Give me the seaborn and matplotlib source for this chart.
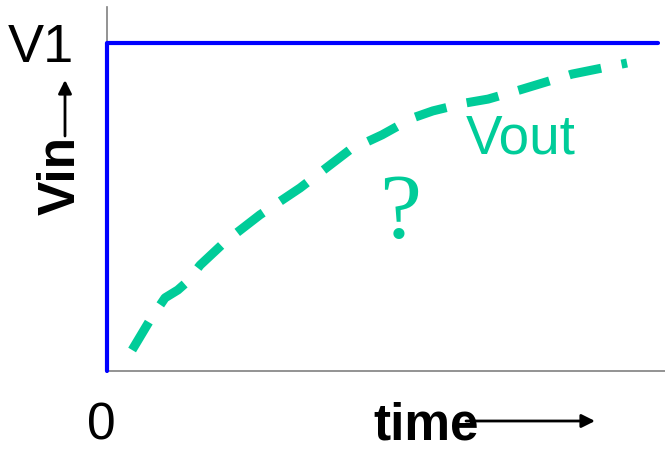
import matplotlib
matplotlib.use("Agg")
import matplotlib.pyplot as plt
import seaborn as sns
import pandas as pd

# Data (time normalised to axis width, voltage normalised to V1)
vin_t = [0.0, 0.0, 0.987]
vin_v = [0.0, 1.0, 1.0]
vout_t = [0.045, 0.077, 0.104, 0.127, 0.143, 0.167, 0.211, 0.274, 0.346,
          0.435, 0.493, 0.547, 0.584, 0.642, 0.683, 0.740, 0.833, 0.932]
vout_v = [0.064, 0.155, 0.223, 0.247, 0.271, 0.323, 0.393, 0.476, 0.558,
          0.674, 0.720, 0.771, 0.793, 0.817, 0.829, 0.857, 0.905, 0.939]

sns.set_style("white")
plt.rcParams['font.family'] = ['Liberation Sans', 'DejaVu Sans']
plt.rcParams['text.color'] = 'black'

W, H = 665, 466
fig = plt.figure(figsize=(W / 100, H / 100), dpi=100)
ax = fig.add_axes([107 / W, (H - 371) / H, 558 / W, 364 / H])

green = "#00CC99"
vin_df = pd.DataFrame({"t": vin_t, "v": vin_v})
vout_df = pd.DataFrame({"t": vout_t, "v": vout_v})
sns.lineplot(data=vin_df, x="t", y="v", sort=False, estimator=None,
             color="#0000FF", linewidth=3, ax=ax, zorder=5, clip_on=False)
sns.lineplot(data=vout_df, x="t", y="v", sort=False, estimator=None,
             color=green, linewidth=6.5, ax=ax, zorder=4)
ax.lines[-1].set_dashes([3.6, 2.3])
ax.lines[-1].set_dash_capstyle("butt")

ax.set_xlim(0, 1.0)
ax.set_ylim(0, 364 / 328)
ax.set_xticks([])
ax.set_yticks([])
ax.set_xlabel("")
ax.set_ylabel("")
for s in ["top", "right"]:
    ax.spines[s].set_visible(False)
for s in ["left", "bottom"]:
    ax.spines[s].set_color("#808080")
    ax.spines[s].set_linewidth(1.2)


def fx(px):
    return px / W


def fy(py):
    return 1 - py / H


fig.text(fx(8), fy(62), "V1", fontsize=39, ha="left", va="baseline")
fig.text(fx(87), fy(440), "0", fontsize=37, ha="left", va="baseline")
fig.text(fx(75), fy(215), "Vin", fontsize=37, fontweight="bold",
         rotation=90, rotation_mode="anchor", ha="left", va="baseline")
fig.text(fx(373), fy(440), "time", fontsize=37, fontweight="bold",
         ha="left", va="baseline")
fig.text(fx(466), fy(153), "Vout", fontsize=39.5, color=green,
         ha="left", va="baseline")
fig.text(fx(400), fy(238), "?", fontsize=68, color=green,
         family=["Liberation Serif", "DejaVu Serif"], ha="center", va="baseline")

arrow = dict(arrowstyle="-|>", lw=2, color="black", mutation_scale=20,
             shrinkA=0, shrinkB=0)
ax.annotate("", xy=(65, H - 80), xytext=(65, H - 136),
            xycoords="figure pixels", textcoords="figure pixels",
            arrowprops=arrow, annotation_clip=False)
ax.annotate("", xy=(595, H - 421), xytext=(466, H - 421),
            xycoords="figure pixels", textcoords="figure pixels",
            arrowprops=arrow, annotation_clip=False)

fig.savefig("out.png", dpi=100)
